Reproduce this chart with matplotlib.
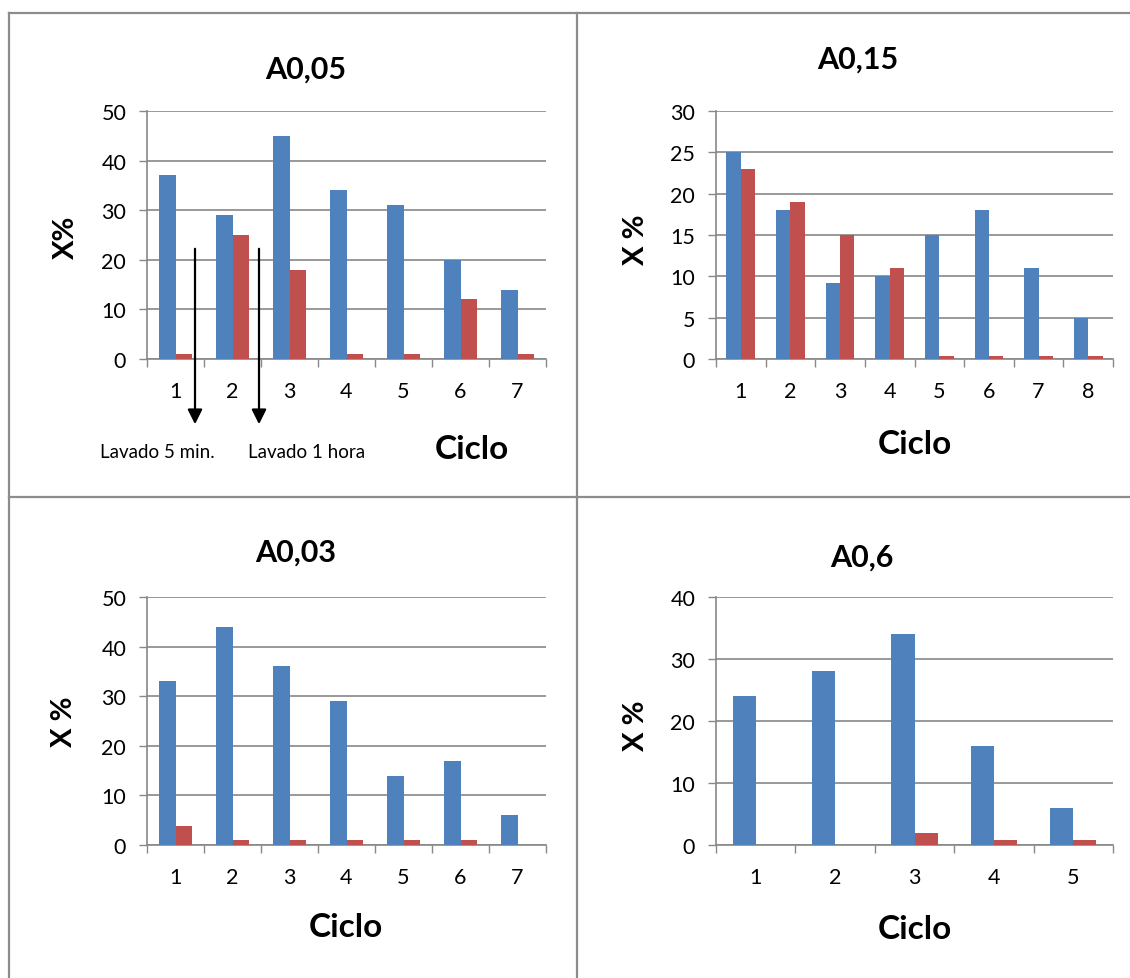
import numpy as np
import matplotlib
matplotlib.use('Agg')
from matplotlib import pyplot
from matplotlib.lines import Line2D

W, H = 1130, 979

# data
titles = ['A0,05', 'A0,15', 'A0,03', 'A0,6']
blue_a005 = [37, 29, 45, 34, 31, 20, 14]
red_a005 = [1, 25, 18, 1, 1, 12, 1]
blue_a015 = [25, 18, 9.2, 10, 15, 18, 11, 5]
red_a015 = [23, 19, 15, 11, 0.4, 0.4, 0.4, 0.4]
blue_a003 = [33, 44, 36, 29, 14, 17, 6]
red_a003 = [3.8, 1, 1, 1, 1, 1, 0]
blue_a06 = [24, 28, 34, 16, 6]
red_a06 = [0, 0, 2, 0.8, 0.8]
ymax = [50, 30, 50, 40]
ystep = [10, 5, 10, 10]
ylabels = ['X%', 'X %', 'X %', 'X %']
notes = ['Lavado 5 min.', 'Lavado 1 hora']

BLUE = '#4F81BD'
RED = '#C0504D'
GRID = '#888888'
FONT = 'Lato'


def fx(x):
    return x / W


def fy(y):
    return 1 - y / H


def panel(fig, rect, blue, red, top, step):
    ax = fig.add_axes(rect)
    n = len(blue)
    x = np.arange(n)
    w = 0.29
    ax.bar(x - w / 2, blue, w, color=BLUE, zorder=3)
    ax.bar(x + w / 2, red, w, color=RED, zorder=3)
    ax.set_xlim(-0.5, n - 0.5)
    ax.set_ylim(0, top)
    ax.set_yticks(np.arange(0, top + 1, step))
    ax.set_yticklabels([str(v) for v in range(0, top + 1, step)],
                       fontsize=15.5, family=FONT)
    ax.set_xticks(np.arange(n + 1) - 0.5)
    ax.set_xticklabels([])
    ax.set_xticks(x, [str(i + 1) for i in x], minor=True)
    for lab in ax.get_xticklabels(minor=True):
        lab.set_fontsize(15.5)
        lab.set_family(FONT)
    ax.tick_params(axis='x', which='major', direction='out', length=6,
                   color=GRID, width=1)
    ax.tick_params(axis='x', which='minor', length=0, pad=16)
    ax.tick_params(axis='y', direction='out', length=6, color=GRID,
                   width=1, pad=9)
    ax.yaxis.grid(True, color=GRID, linewidth=1.2, zorder=0)
    ax.set_axisbelow(True)
    for s in ('top', 'right'):
        ax.spines[s].set_visible(False)
    for s in ('left', 'bottom'):
        ax.spines[s].set_color(GRID)
        ax.spines[s].set_linewidth(1.2)
    return ax


def main():
    fig = pyplot.figure(figsize=(W / 100, H / 100), dpi=100)
    try:
        # cell borders
        border = dict(color='#8c8c8c', linewidth=1.6,
                      transform=fig.transFigure)
        fig.add_artist(Line2D([fx(9), 1], [fy(14), fy(14)], **border))
        fig.add_artist(Line2D([fx(9), fx(9)], [fy(14), 0], **border))
        fig.add_artist(Line2D([fx(577), fx(577)], [fy(14), 0], **border))
        fig.add_artist(Line2D([fx(9), 1], [fy(498), fy(498)], **border))

        lefts = [147, 716, 147, 716]
        rights = [546, 1113, 546, 1113]
        tops = [112, 112, 598, 598]
        bottoms = [360, 360, 846, 846]
        series = [(blue_a005, red_a005), (blue_a015, red_a015),
                  (blue_a003, red_a003), (blue_a06, red_a06)]
        title_pos = [(306, 70), (858, 60), (296, 553), (862, 558)]
        ylab_pos = [(66, 237), (636, 240), (64, 722), (636, 726)]
        xlab_pos = [(472, 450), (915, 444), (346, 928), (915, 930)]

        for i in range(4):
            rect = [fx(lefts[i]), fy(bottoms[i]),
                    (rights[i] - lefts[i]) / W, (bottoms[i] - tops[i]) / H]
            panel(fig, rect, series[i][0], series[i][1], ymax[i], ystep[i])
            fig.text(fx(title_pos[i][0]), fy(title_pos[i][1]), titles[i],
                     family=FONT, fontsize=22, fontweight='bold',
                     ha='center', va='center')
            fig.text(fx(ylab_pos[i][0]), fy(ylab_pos[i][1]), ylabels[i],
                     family=FONT, fontsize=21, fontweight='bold',
                     rotation=90, ha='center', va='center')
            fig.text(fx(xlab_pos[i][0]), fy(xlab_pos[i][1]), 'Ciclo',
                     family=FONT, fontsize=24, fontweight='bold',
                     ha='center', va='center')

        # washing annotations on first panel
        for xa in (195, 259):
            fig.add_artist(matplotlib.patches.FancyArrowPatch(
                (fx(xa), fy(247)), (fx(xa), fy(428)),
                transform=fig.transFigure, arrowstyle='-|>',
                mutation_scale=22, color='black', linewidth=1.6))
        fig.text(fx(157), fy(453), notes[0], family=FONT, fontsize=13.5,
                 ha='center', va='center')
        fig.text(fx(307), fy(453), notes[1], family=FONT, fontsize=13.5,
                 ha='center', va='center')

        fig.savefig('out.png', dpi=100)
    finally:
        pyplot.close(fig)


if __name__ == '__main__':
    main()
